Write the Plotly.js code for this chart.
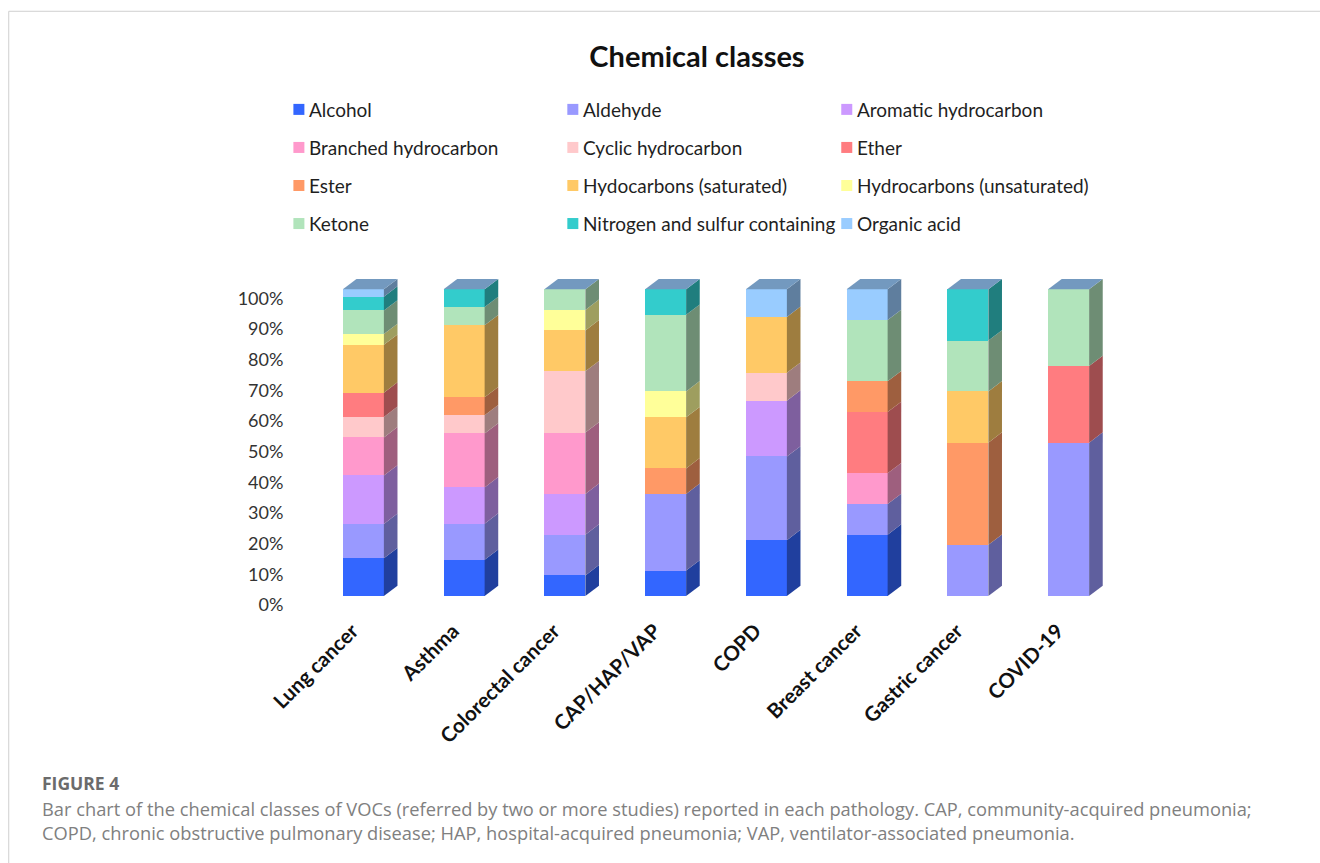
<!DOCTYPE html>
<html>
<head>
<meta charset="utf-8">
<title>Chemical classes</title>
<script src="https://cdn.plot.ly/plotly-3.0.1.min.js"></script>
<style>html,body{margin:0;padding:0;background:#fff}#chart{width:1320px;height:863px}</style>
</head>
<body>
<div id="chart"></div>
<script>
// Pathologies along the x axis
const pathologies = ['Lung cancer','Asthma','Colorectal cancer','CAP/HAP/VAP','COPD','Breast cancer','Gastric cancer','COVID-19'];

// Share of VOCs per chemical class, one value per pathology (percent)
const alcohol      = [12.3, 11.8,  6.7,  8.3, 18.2, 20,    0,  0];
const aldehyde     = [11.2, 11.8, 13.3, 25,   27.3, 10, 16.7, 50];
const aromatic     = [15.8, 11.8, 13.3,  0,   18.2,  0,    0,  0];
const branched     = [12.4, 17.6, 20,    0,    0,   10,    0,  0];
const cyclic       = [ 6.7,  5.9, 20,    0,    9.1,  0,    0,  0];
const ether        = [ 7.9,  0,    0,    0,    0,   20,    0, 25];
const ester        = [ 0,    5.9,  0,    8.3,  0,   10, 33.3,  0];
const saturated    = [15.6, 23.5, 13.3, 16.7, 18.2,  0, 16.7,  0];
const unsaturated  = [ 3.5,  0,    6.7,  8.4,  0,    0,    0,  0];
const ketone       = [ 7.7,  5.9,  6.7, 25,    0,   20, 16.6, 25];
const nitroSulfur  = [ 4.5,  5.8,  0,    8.3,  0,    0, 16.7,  0];
const organicAcid  = [ 2.4,  0,    0,    0,    9.0, 10,    0,  0];

const classNames = ['Alcohol','Aldehyde','Aromatic hydrocarbon','Branched hydrocarbon','Cyclic hydrocarbon','Ether','Ester',
  'Hydocarbons (saturated)','Hydrocarbons (unsaturated)','Ketone','Nitrogen and sulfur containing','Organic acid'];
const classValues = [alcohol,aldehyde,aromatic,branched,cyclic,ether,ester,saturated,unsaturated,ketone,nitroSulfur,organicAcid];
const classColors = ['#3366FF','#9999FF','#CC99FF','#FF99CC','#FFC9CB','#FF7C80','#FF9966','#FFC966','#FFFF99','#B1E4BB','#33CCCC','#99CCFF'];

// Page geometry in pixels
const W = 1320, H = 863;
const plotL = 313.1, plotR = 1118.7, plotT = 274.4, plotB = 596;
const px = x => (x - plotL) / (plotR - plotL);
const py = y => (plotB - y) / (plotB - plotT);

// Pseudo-3D extrusion, in axis units
const barWidth = 0.407, depthX = 0.135, depthY = 3.37;

function shade(hex, k) {
  const n = parseInt(hex.slice(1), 16);
  const c = [(n >> 16) & 255, (n >> 8) & 255, n & 255].map(v => Math.round(v * k));
  return `rgb(${c[0]},${c[1]},${c[2]})`;
}

const UI_FONT = 'Lato, "Open Sans", sans-serif';
const CAPTION_FONT = '"Open Sans", Lato, sans-serif';
const traces = classNames.map((name, i) => ({
  type: 'bar', name, x: pathologies, y: classValues[i],
  marker: {color: classColors[i], line: {width: 0}},
  showlegend: false, hoverinfo: 'x+y+name'
}));

// Side and top faces of each stacked column
const shapes = [];
pathologies.forEach((_, c) => {
  const right = c + barWidth / 2, left = c - barWidth / 2;
  let base = 0;
  classValues.forEach((vals, i) => {
    const v = vals[c];
    if (!v) return;
    const top = base + v;
    shapes.push({type: 'path', xref: 'x', yref: 'y', layer: 'above', line: {width: 0},
      fillcolor: shade(classColors[i], 0.62),
      path: `M${right},${base}L${right + depthX},${base + depthY}L${right + depthX},${top + depthY}L${right},${top}Z`});
    base = top;
  });
  shapes.push({type: 'path', xref: 'x', yref: 'y', layer: 'above', line: {width: 0},
    fillcolor: shade(classColors[11], 0.75),
    path: `M${left},${base}L${right},${base}L${right + depthX},${base + depthY}L${left + depthX},${base + depthY}Z`});
});

// Page frame rules
shapes.push({type: 'line', xref: 'paper', yref: 'paper', x0: px(9), x1: px(W), y0: py(12), y1: py(12), line: {color: '#cfcfcf', width: 1}});
shapes.push({type: 'line', xref: 'paper', yref: 'paper', x0: px(9), x1: px(9), y0: py(12), y1: py(H), line: {color: '#cfcfcf', width: 1}});

// Three-column key above the plot
const annotations = [];
const keyX = 293.5, keyY = 110, colStep = 273.8, rowStep = 38, swatch = 11;
classNames.forEach((name, i) => {
  const col = i % 3, row = Math.floor(i / 3);
  const x = keyX + col * colStep, y = keyY + row * rowStep;
  shapes.push({type: 'rect', xref: 'paper', yref: 'paper', layer: 'above', line: {width: 0}, fillcolor: classColors[i],
    x0: px(x), x1: px(x + swatch), y0: py(y - swatch / 2), y1: py(y + swatch / 2)});
  annotations.push({xref: 'paper', yref: 'paper', x: px(x + swatch + 5), y: py(y), xanchor: 'left', yanchor: 'middle',
    showarrow: false, text: name, font: {family: UI_FONT, size: 19, color: '#1f1f1f'}, borderpad: 0, borderwidth: 0});
});

// Caption below the plot
const captionLines = [
  {text: '<b>FIGURE 4</b>', y: 783, color: '#6b6b6b', size: 17.5},
  {text: 'Bar chart of the chemical classes of VOCs (referred by two or more studies) reported in each pathology. CAP, community-acquired pneumonia;', y: 808, color: '#808080', size: 18.3},
  {text: 'COPD, chronic obstructive pulmonary disease; HAP, hospital-acquired pneumonia; VAP, ventilator-associated pneumonia.', y: 832, color: '#808080', size: 18.3}
];
captionLines.forEach(l => annotations.push({xref: 'paper', yref: 'paper', x: px(42), y: py(l.y), xanchor: 'left', yanchor: 'middle',
  showarrow: false, text: l.text, font: {family: CAPTION_FONT, size: l.size, color: l.color}, borderpad: 0, borderwidth: 0}));

const layout = {
  width: W, height: H, autosize: false,
  margin: {l: plotL, r: W - plotR, t: plotT, b: H - plotB, pad: 0},
  paper_bgcolor: '#fff', plot_bgcolor: '#fff',
  font: {family: UI_FONT, color: '#222'},
  title: {text: '<b>Chemical classes</b>', x: 697 / W, xref: 'container', xanchor: 'center', y: 1 - 57 / H, yref: 'container', yanchor: 'middle',
    font: {family: UI_FONT, size: 29, color: '#111'}},
  barmode: 'stack', bargap: 1 - barWidth, showlegend: false,
  xaxis: {type: 'category', range: [-0.5, 7.5], showgrid: false, zeroline: false, showline: false,
    ticks: 'outside', ticklen: 14, tickcolor: 'rgba(0,0,0,0)', tickangle: -45, ticklabelshift: -11,
    tickfont: {family: UI_FONT, size: 20.5, color: '#111', weight: 'bold'}},
  yaxis: {range: [0, 105], tick0: 0, dtick: 10, ticksuffix: '%', showgrid: false, zeroline: false, showline: false,
    ticks: 'outside', ticklen: 25, tickcolor: 'rgba(0,0,0,0)', ticklabelshift: 9,
    tickfont: {family: UI_FONT, size: 18, color: '#333'}},
  shapes, annotations
};

Plotly.newPlot('chart', traces, layout, {displayModeBar: false});
</script>
</body>
</html>
